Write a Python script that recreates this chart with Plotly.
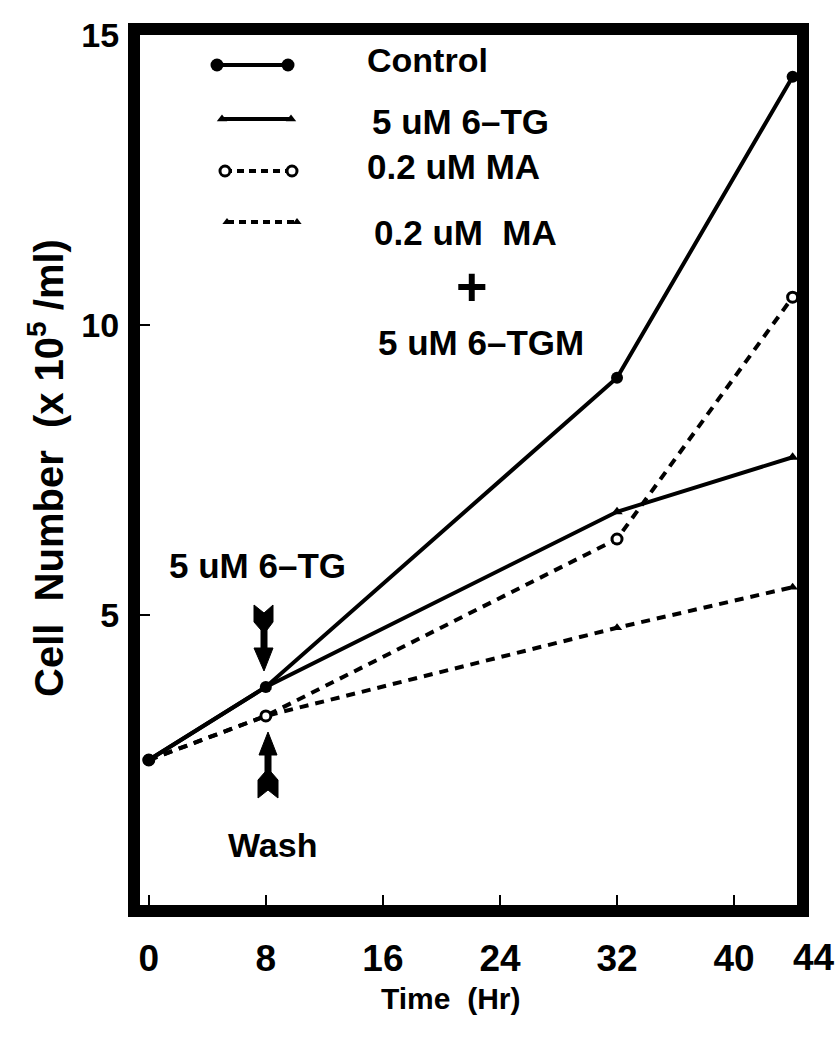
import plotly.graph_objects as go

# ---- data ----
time_hr = [0, 8, 32, 44]
control = [2.5, 3.76, 9.09, 14.28]
tg6 = [2.5, 3.76, 6.78, 7.72]
ma = [2.5, 3.26, 6.31, 10.48]
ma_tgm = [2.5, 3.26, 4.78, 5.48]

x_ticks = [0, 8, 16, 24, 32, 40]
x_tick_last = 44
y_ticks = [5, 10, 15]
series_names = ["Control", "5 uM 6–TG", "0.2 uM MA", "0.2 uM  MA"]

W, H = 839, 1046
L, R, T, B = 140, 42, 35, 141
FONT = "Liberation Sans, Arial, sans-serif"
DASH = "9px,7px"

fig = go.Figure()

# data traces
fig.add_trace(go.Scatter(x=time_hr, y=ma_tgm, mode="lines+markers", name=series_names[3],
                         line=dict(color="black", width=4, dash=DASH),
                         marker=dict(symbol="triangle-up", size=9, color="black")))
fig.add_trace(go.Scatter(x=time_hr, y=tg6, mode="lines+markers", name=series_names[1],
                         line=dict(color="black", width=4),
                         marker=dict(symbol="triangle-up", size=10, color="black")))
fig.add_trace(go.Scatter(x=time_hr, y=ma, mode="lines+markers", name=series_names[2],
                         line=dict(color="black", width=4, dash=DASH),
                         marker=dict(symbol="circle", size=10, color="white",
                                     line=dict(color="black", width=3))))
fig.add_trace(go.Scatter(x=time_hr, y=control, mode="lines+markers", name=series_names[0],
                         line=dict(color="black", width=4),
                         marker=dict(symbol="circle", size=12, color="black")))

# ---- legend samples drawn in a pixel-like overlay axis ----
leg_rows = [
    dict(y=65, x0=217, x1=288, dash="solid", sym="circle", size=13, fill="black", lw=0),
    dict(y=119, x0=222, x1=291, dash="solid", sym="triangle-up", size=9, fill="black", lw=0),
    dict(y=171, x0=225, x1=292, dash="7px,5px", sym="circle", size=10, fill="white", lw=3),
    dict(y=222, x0=227, x1=297, dash="7px,5px", sym="triangle-up", size=8, fill="black", lw=0),
]
for r in leg_rows:
    fig.add_trace(go.Scatter(x=[r["x0"], r["x1"]], y=[r["y"], r["y"]], xaxis="x2", yaxis="y2",
                             mode="lines+markers", showlegend=False, hoverinfo="skip",
                             line=dict(color="black", width=4, dash=r["dash"]),
                             marker=dict(symbol=r["sym"], size=r["size"], color=r["fill"],
                                         line=dict(color="black", width=r["lw"]))))

PW, PH = W - L - R, H - T - B


def txt(x, y, s, size, xanchor="left", angle=0):
    # x, y in page pixels -> paper coordinates
    fig.add_annotation(x=(x - L) / PW, y=(H - B - y) / PH, xref="paper", yref="paper",
                       text="<b>" + s + "</b>",
                       showarrow=False, xanchor=xanchor, yanchor="middle", textangle=angle,
                       font=dict(family=FONT, size=size, color="black"))


txt(365, 60, series_names[0], 34)
txt(370, 121, series_names[1], 35)
txt(365, 167, series_names[2], 35)
txt(372, 232, series_names[3], 35)
txt(472, 286, "+", 54, xanchor="center")
txt(376, 342, "5 uM 6–TGM", 35)
txt(167, 565, "5 uM 6–TG", 35)
txt(226, 845, "Wash", 34)
txt(814, 957, str(x_tick_last), 37, xanchor="center")
txt(450, 998, "Time  (Hr)", 30, xanchor="center")
txt(46, 468, "Cell  Number  (x 10<sup>5</sup> /ml)", 40, xanchor="center", angle=-90)

# arrows (pixel-like coords)
down_arrow = ("M 254 605 L 264 613 L 273 605 L 273 622 L 267 630 L 267 648 L 273 648 "
              "L 264 671 L 254 648 L 261 648 L 261 630 L 254 622 Z")
up_arrow = ("M 268 732 L 277 755 L 271 755 L 271 772 L 278 780 L 278 798 L 268 790 "
            "L 258 798 L 258 780 L 265 772 L 265 755 L 259 755 Z")
for p in (down_arrow, up_arrow):
    fig.add_shape(type="path", path=p, xref="x2", yref="y2",
                  fillcolor="black", line=dict(color="black", width=1))

axis_common = dict(showline=True, linewidth=12, linecolor="black", mirror=True,
                   ticks="inside", ticklen=10, tickwidth=2, tickcolor="black",
                   showgrid=False, zeroline=False)

fig.update_layout(
    width=W, height=H,
    margin=dict(l=L, r=R, t=T, b=B),
    paper_bgcolor="white", plot_bgcolor="white",
    showlegend=False,
    xaxis=dict(range=[-0.6, 44.3], tickvals=x_ticks,
               ticktext=["<b>%d</b>" % v for v in x_ticks], ticklabelstandoff=10,
               tickfont=dict(family=FONT, size=37, color="black"), **axis_common),
    yaxis=dict(range=[0, 15], tickvals=y_ticks,
               ticktext=["<b>%d</b>" % v for v in y_ticks], ticklabelstandoff=2,
               tickfont=dict(family=FONT, size=34, color="black"), **axis_common),
    xaxis2=dict(overlaying="x", range=[L, W - R], visible=False, anchor="y2"),
    yaxis2=dict(overlaying="y", range=[H - B, T], visible=False, anchor="x2"),
)

fig.write_html("out.html")
